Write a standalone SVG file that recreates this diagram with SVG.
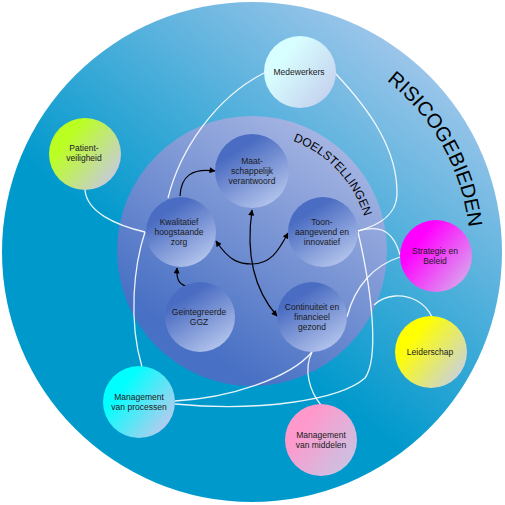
<svg xmlns="http://www.w3.org/2000/svg" width="505" height="505" viewBox="0 0 505 505">
<defs>
<linearGradient id="gOuter" x1="0.85" y1="0.08" x2="0.3" y2="0.8"><stop offset="0" stop-color="#a6c8ec"/><stop offset="0.75" stop-color="#0099cc"/></linearGradient>
<linearGradient id="gInner" x1="0.8" y1="0.1" x2="0.3" y2="0.85"><stop offset="0" stop-color="#a4b4e2"/><stop offset="1" stop-color="#4870c4"/></linearGradient>
<linearGradient id="gGoal" x1="0.3" y1="0.1" x2="0.85" y2="0.95"><stop offset="0.1" stop-color="#4a6cc2"/><stop offset="1" stop-color="#b8c8ee"/></linearGradient>
<linearGradient id="gMed" x1="0.25" y1="0.3" x2="0.95" y2="0.85"><stop offset="0" stop-color="#d8ffff"/><stop offset="1" stop-color="#c4d0ee"/></linearGradient>
<linearGradient id="gPat" x1="0.25" y1="0.3" x2="0.95" y2="0.85"><stop offset="0" stop-color="#bbff22"/><stop offset="1" stop-color="#c8c8e4"/></linearGradient>
<linearGradient id="gStr" x1="0.25" y1="0.3" x2="0.95" y2="0.85"><stop offset="0" stop-color="#ff00ff"/><stop offset="1" stop-color="#d8a8ec"/></linearGradient>
<linearGradient id="gLei" x1="0.25" y1="0.3" x2="0.95" y2="0.85"><stop offset="0" stop-color="#ffff00"/><stop offset="1" stop-color="#c8d0e4"/></linearGradient>
<linearGradient id="gPro" x1="0.25" y1="0.3" x2="0.95" y2="0.85"><stop offset="0" stop-color="#00ffff"/><stop offset="1" stop-color="#c0c8ec"/></linearGradient>
<linearGradient id="gMid" x1="0.25" y1="0.3" x2="0.95" y2="0.85"><stop offset="0" stop-color="#ff99cc"/><stop offset="1" stop-color="#c8c4e4"/></linearGradient>
<marker id="ah" viewBox="0 0 10 10" refX="9" refY="5" markerWidth="7" markerHeight="6" markerUnits="userSpaceOnUse" orient="auto-start-reverse"><path d="M0,0 L10,5 L0,10 z" fill="#000"/></marker>
<path id="arcRisico" d="M386.8,80.7 A218,218 0 0 1 466.7,289.9"/>
<path id="arcDoel" d="M293,140.9 A117.5,117.5 0 0 1 369.5,251"/>
</defs>
<style>
text{font-family:"Liberation Sans",Arial,sans-serif;fill:#1a1a22;text-anchor:middle}
.t{font-size:8.5px}
.goal{fill:url(#gGoal)}
.w{fill:none;stroke:#fff;stroke-width:1.3;stroke-opacity:0.9}
.b{fill:none;stroke:#000;stroke-width:1.2;marker-end:url(#ah)}
.bb{fill:none;stroke:#000;stroke-width:1.2;marker-start:url(#ah);marker-end:url(#ah)}
.big{font-size:20px;text-anchor:start;fill:#000}
.mid{font-size:12px;text-anchor:start;fill:#000}
</style>
<g id="risicogebieden">
<circle cx="252" cy="252" r="250" fill="url(#gOuter)"/>
<text class="big"><textPath href="#arcRisico">RISICOGEBIEDEN</textPath></text>
</g>
<g id="doelstellingen">
<circle cx="252" cy="251" r="135" fill="url(#gInner)"/>
<text class="mid"><textPath href="#arcDoel">DOELSTELLINGEN</textPath></text>
</g>
<g id="connectors">
<path class="w" d="M264,73 C215,98 180,150 168,198"/>
<path class="w" d="M335,73 C370,110 398,150 397,195 C396,215 380,225 358,231"/>
<path class="w" d="M85,190 C87,212 115,225 145,232"/>
<path class="w" d="M145,232 C134,265 128,320 142,367"/>
<path class="w" d="M175,401 C230,398 290,378 312,352"/>
<path class="w" d="M175,404 C260,412 340,400 365,378 C378,360 374,300 358,232"/>
<path class="w" d="M358,231 C375,226 392,226 400,255"/>
<path class="w" d="M400,257 C375,265 355,285 347,317"/>
<path class="w" d="M432,317 C425,302 410,295 395,296 C385,297 378,301 374,305"/>
<path class="w" d="M321,405 C310,392 303,370 312,352"/>
<path class="b" d="M180,196 C181,176 192,168 215,171"/>
<path class="b" d="M189,287 C180,285 176,281 177,268"/>
<path class="bb" d="M216,241 C230,262 240,264 252,264 C270,264 278,252 288,233"/>
<path class="bb" d="M252,210 C247,245 250,285 277,316"/>
</g>
<g id="maatschappelijk">
<circle class="goal" cx="252" cy="171" r="37"/>
<text class="t" x="252" y="164">Maat-</text>
<text class="t" x="252" y="174">schappelijk</text>
<text class="t" x="252" y="184">verantwoord</text>
</g>
<g id="kwalitatief">
<circle class="goal" cx="181" cy="232" r="35"/>
<text class="t" x="179" y="225">Kwalitatief</text>
<text class="t" x="179" y="235">hoogstaande</text>
<text class="t" x="179" y="245">zorg</text>
</g>
<g id="toonaangevend">
<circle class="goal" cx="323" cy="232" r="35"/>
<text class="t" x="322" y="225">Toon-</text>
<text class="t" x="322" y="235">aangevend en</text>
<text class="t" x="322" y="245">innovatief</text>
</g>
<g id="geintegreerde">
<circle class="goal" cx="200" cy="317" r="35"/>
<text class="t" x="199" y="315">Geintegreerde</text>
<text class="t" x="199" y="325">GGZ</text>
</g>
<g id="continuiteit">
<circle class="goal" cx="312" cy="317" r="35"/>
<text class="t" x="312" y="310">Continuiteit en</text>
<text class="t" x="312" y="320">financieel</text>
<text class="t" x="312" y="330">gezond</text>
</g>
<g id="medewerkers">
<circle cx="300" cy="72" r="36" fill="url(#gMed)"/>
<text class="t" x="299" y="75">Medewerkers</text>
</g>
<g id="patientveiligheid">
<circle cx="85" cy="154" r="36" fill="url(#gPat)"/>
<text class="t" x="84" y="151">Patient-</text>
<text class="t" x="84" y="161">veiligheid</text>
</g>
<g id="strategie">
<circle cx="436" cy="256" r="36" fill="url(#gStr)"/>
<text class="t" x="435" y="254">Strategie en</text>
<text class="t" x="435" y="264">Beleid</text>
</g>
<g id="leiderschap">
<circle cx="431" cy="352" r="36" fill="url(#gLei)"/>
<text class="t" x="430" y="355">Leiderschap</text>
</g>
<g id="processen">
<circle cx="139" cy="402" r="36" fill="url(#gPro)"/>
<text class="t" x="139" y="400">Management</text>
<text class="t" x="139" y="410">van processen</text>
</g>
<g id="middelen">
<circle cx="321" cy="440" r="36" fill="url(#gMid)"/>
<text class="t" x="321" y="438">Management</text>
<text class="t" x="321" y="448">van middelen</text>
</g>
</svg>
